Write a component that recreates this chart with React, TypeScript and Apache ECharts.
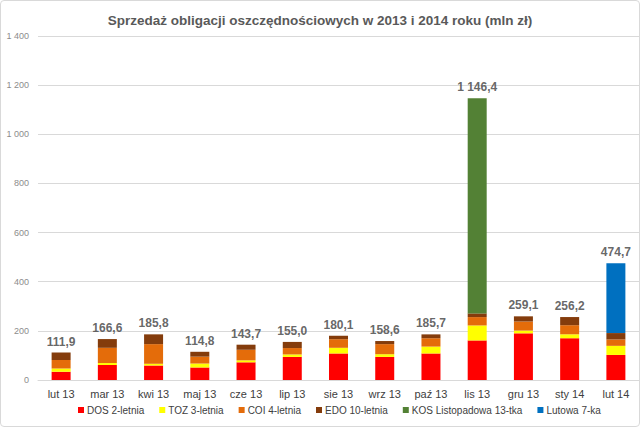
import React, { useEffect, useRef } from "react";
import * as echarts from "echarts";

const categories = ["lut 13", "mar 13", "kwi 13", "maj 13", "cze 13", "lip 13", "sie 13", "wrz 13", "paź 13", "lis 13", "gru 13", "sty 14", "lut 14"];
const dos = [34, 61, 59, 51, 72, 94, 108, 94, 108, 161, 190, 170, 102];
const toz = [13, 8, 7, 16, 8, 10, 23, 11, 28, 61, 11, 16, 37];
const coi = [34, 62, 80, 28, 43, 26, 35, 41, 34, 34, 37, 37, 26];
const edo = [30.9, 35.6, 39.8, 19.8, 20.7, 25.0, 14.1, 12.6, 15.7, 15, 21.1, 33.2, 26];
const kos = [0, 0, 0, 0, 0, 0, 0, 0, 0, 875.4, 0, 0, 0];
const lutowa = [0, 0, 0, 0, 0, 0, 0, 0, 0, 0, 0, 0, 283.7];
const totals = [111.9, 166.6, 185.8, 114.8, 143.7, 155.0, 180.1, 158.6, 185.7, 1146.4, 259.1, 256.2, 474.7];

const seriesNames = ["DOS 2-letnia", "TOZ 3-letnia", "COI 4-letnia", "EDO 10-letnia", "KOS Listopadowa 13-tka", "Lutowa 7-ka"];
const seriesData = [dos, toz, coi, edo, kos, lutowa];
const colors = ["#FF0000", "#FFFF00", "#E46C0A", "#843C0C", "#538135", "#0070C0"];

function fmtThousands(v: number, decimals: number): string {
  const s = v.toFixed(decimals);
  const [intPart, dec] = s.split(".");
  const withSp = intPart.replace(/\B(?=(\d{3})+(?!\d))/g, " ");
  return dec !== undefined ? withSp + "," + dec : withSp;
}

export default function App() {
  const ref = useRef<HTMLDivElement>(null);
  useEffect(() => {
    if (!ref.current) return;
    const chart = echarts.init(ref.current, undefined, { renderer: "svg" });
    const font = "Liberation Sans, Arial, sans-serif";
    const bars = seriesNames.map((name, i) => ({
      name,
      type: "bar",
      stack: "total",
      barWidth: 19,
      itemStyle: { color: colors[i] },
      data: seriesData[i],
    }));
    chart.setOption({
      animation: false,
      textStyle: { fontFamily: font },
      title: {
        text: "Sprzedaż obligacji oszczędnościowych w 2013 i 2014 roku (mln zł)",
        left: "center",
        top: 7,
        textStyle: { fontSize: 13.5, fontWeight: "bold", color: "#595959", fontFamily: font },
      },
      legend: {
        data: seriesNames,
        bottom: 6,
        left: 72,
        itemWidth: 6,
        itemHeight: 6,
        itemGap: 15,
        icon: "rect",
        textStyle: { fontSize: 10, color: "#404040", fontFamily: font, padding: [0, 0, 0, -2] },
      },
      grid: { left: 37, right: 0, top: 35, bottom: 46 },
      xAxis: {
        type: "category",
        data: categories,
        axisLine: { lineStyle: { color: "#d9d9d9" } },
        axisTick: { show: false },
        axisLabel: { fontSize: 11, color: "#404040", margin: 8 },
      },
      yAxis: {
        type: "value",
        min: 0,
        max: 1400,
        interval: 200,
        axisLine: { show: false },
        axisTick: { show: false },
        splitLine: { lineStyle: { color: "#d9d9d9" } },
        axisLabel: { fontSize: 9, color: "#8c8c8c", margin: 9, formatter: (v: number) => fmtThousands(v, 0) },
      },
      series: [
        ...bars,
        {
          name: "totals",
          type: "scatter",
          symbolSize: 0,
          silent: true,
          data: totals,
          label: {
            show: true,
            position: "top",
            distance: 5,
            fontSize: 12,
            fontWeight: "bold",
            color: "#404040",
            formatter: (p: any) => fmtThousands(p.value, 1),
          },
        },
      ],
    });
    return () => chart.dispose();
  }, []);
  return (
    <div
      style={{
        position: "fixed",
        left: 0,
        top: 0,
        width: 640,
        height: 427,
        boxSizing: "border-box",
        border: "1px solid #d9d9d9",
        borderRadius: 4,
        background: "#fff",
      }}
    >
      <div ref={ref} style={{ width: 638, height: 425 }} />
    </div>
  );
}
